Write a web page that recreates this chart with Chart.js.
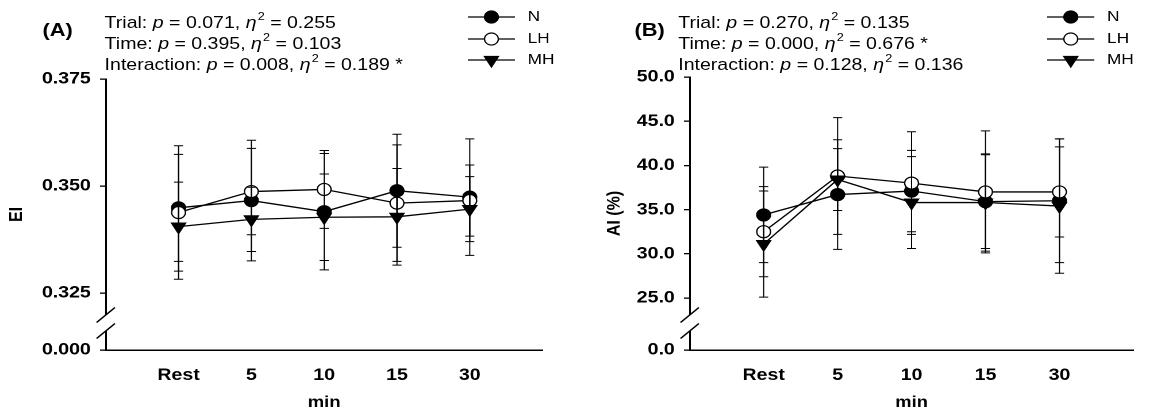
<!DOCTYPE html>
<html>
<head>
<meta charset="utf-8">
<script src="https://cdn.jsdelivr.net/npm/chart.js@4.4.0/dist/chart.umd.min.js"></script>
<style>
  html, body { margin: 0; padding: 0; background: #fff; overflow: hidden; }
  #wrap { position: absolute; left: 0; top: 0; width: 1010px; height: 412px;
          transform: scaleX(1.1495); transform-origin: 0 0;
          font-family: "Liberation Sans", Arial, sans-serif; color: #000; }
  .panel { position: absolute; top: 0; height: 412px; }
  .tag { position: absolute; font-weight: bold; font-size: 19px; line-height: 23px; }
  .stats { position: absolute; font-size: 17px; line-height: 21px; white-space: nowrap; }
  .stats div { height: 21px; }
  .stats sup { font-size: 11px; line-height: 0; vertical-align: baseline;
               position: relative; top: -8px; margin-left: 1px; }
</style>
</head>
<body>
<div id="wrap">
  <div class="panel" style="left:0;width:504px"><canvas id="chartA"></canvas></div>
  <div class="panel" style="left:504px;width:506px"><canvas id="chartB"></canvas></div>

  <div class="tag" style="left:37px;top:18px">(A)</div>
  <div class="stats" style="left:91px;top:12px">
    <div>Trial: <i>p</i> = 0.071, <i>η</i><sup>2</sup> = 0.255</div>
    <div>Time: <i>p</i> = 0.395, <i>η</i><sup>2</sup> = 0.103</div>
    <div>Interaction: <i>p</i> = 0.008, <i>η</i><sup>2</sup> = 0.189 *</div>
  </div>

  <div class="tag" style="left:552px;top:18px">(B)</div>
  <div class="stats" style="left:590px;top:12px">
    <div>Trial: <i>p</i> = 0.270, <i>η</i><sup>2</sup> = 0.135</div>
    <div>Time: <i>p</i> = 0.000, <i>η</i><sup>2</sup> = 0.676 *</div>
    <div>Interaction: <i>p</i> = 0.128, <i>η</i><sup>2</sup> = 0.136</div>
  </div>
</div>

<script>
// time points
const timeLabels = ['Rest', '5', '10', '15', '30']

// EI (panel A) means and SDs
const eiN    = [0.3449, 0.3466, 0.3440, 0.3489, 0.3474]
const eiLH   = [0.3438, 0.3487, 0.3492, 0.3460, 0.3466]
const eiMH   = [0.3405, 0.3422, 0.3427, 0.3428, 0.3446]
const eiNsd  = [0.0125, 0.0141, 0.0136, 0.0132, 0.0136]
const eiLHsd = [0.0156, 0.0101, 0.0091, 0.0136, 0.0083]
const eiMHsd = [0.0104, 0.0075, 0.0101, 0.0113, 0.0076]

// AI % (panel B) means and SDs
const aiN    = [34.4, 36.7, 37.1, 35.9, 36.0]
const aiLH   = [32.5, 38.8, 38.0, 37.0, 37.0]
const aiMH   = [31.1, 38.4, 35.8, 35.8, 35.4]
const aiNsd  = [5.4, 6.2, 4.6, 5.3, 7.0]
const aiLHsd = [5.1, 6.6, 5.8, 6.9, 5.1]
const aiMHsd = [6.0, 3.5, 5.2, 5.5, 7.6]

// y tick labels above the axis break
const eiTicks = [0.325, 0.350, 0.375]
const aiTicks = [25, 30, 35, 40, 45, 50]

const FONT = '"Liberation Sans", Arial, sans-serif'
Chart.defaults.color = '#000'
Chart.defaults.font.family = FONT

const pts = arr => arr.map((v, i) => ({x: i + 1, y: v}))

function makeSets(n, lh, mh, nsd, lhsd, mhsd) {
  const base = {borderColor: '#000', borderWidth: 1.3, pointBorderColor: '#000',
                pointBorderWidth: 1.2, tension: 0, fill: false}
  return [
    {...base, label: 'N', data: pts(n), sd: nsd, pointStyle: 'circle', pointRadius: 6,
     pointBackgroundColor: '#000', pointRotation: 0, order: 3},
    {...base, label: 'LH', data: pts(lh), sd: lhsd, pointStyle: 'circle', pointRadius: 6,
     pointBackgroundColor: '#fff', pointRotation: 0, order: 2},
    {...base, label: 'MH', data: pts(mh), sd: mhsd, pointStyle: 'triangle', pointRadius: 7,
     pointBackgroundColor: '#000', pointRotation: 180, order: 1},
  ]
}

// vertical error bars with caps, drawn through the y scale
const errorBars = {
  id: 'errorBars',
  afterDatasetsDraw(chart) {
    const ctx = chart.ctx, ys = chart.scales.y
    ctx.save()
    ctx.strokeStyle = '#000'
    ctx.lineWidth = 1
    chart.data.datasets.forEach((ds, i) => {
      chart.getDatasetMeta(i).data.forEach((pt, j) => {
        const v = ds.data[j].y, e = ds.sd[j]
        const t = ys.getPixelForValue(v + e), b = ys.getPixelForValue(v - e)
        ctx.beginPath()
        ctx.moveTo(pt.x, t); ctx.lineTo(pt.x, b)
        ctx.moveTo(pt.x - 4, t); ctx.lineTo(pt.x + 4, t)
        ctx.moveTo(pt.x - 4, b); ctx.lineTo(pt.x + 4, b)
        ctx.stroke()
      })
    })
    ctx.restore()
  }
}

// axis break marks near the bottom of the y axis
const axisBreak = {
  id: 'axisBreak',
  afterDraw(chart) {
    const ctx = chart.ctx
    const x = chart.scales.y.right
    const bottom = chart.chartArea.bottom
    const y1 = bottom - 35, y2 = bottom - 19
    ctx.save()
    ctx.fillStyle = '#fff'
    ctx.fillRect(x - 3, y1, 6, y2 - y1)
    ctx.strokeStyle = '#000'
    ctx.lineWidth = 1.4
    ;[y1, y2].forEach(yc => {
      ctx.beginPath()
      ctx.moveTo(x - 8, yc + 7.5)
      ctx.lineTo(x + 8, yc - 7.5)
      ctx.stroke()
    })
    ctx.restore()
  }
}

// series key: line segment with marker, then label
const seriesKey = {
  id: 'seriesKey',
  afterDraw(chart, args, opts) {
    const ctx = chart.ctx
    ctx.save()
    chart.data.datasets.forEach((ds, i) => {
      const y = opts.rows[i]
      ctx.strokeStyle = '#000'
      ctx.lineWidth = 1.3
      ctx.beginPath()
      ctx.moveTo(opts.x0, y); ctx.lineTo(opts.x1, y)
      ctx.stroke()
      ctx.fillStyle = ds.pointBackgroundColor
      ctx.lineWidth = 1.2
      Chart.helpers.drawPoint(ctx, {pointStyle: ds.pointStyle, rotation: ds.pointRotation,
        radius: ds.pointRadius, borderWidth: 1.2}, (opts.x0 + opts.x1) / 2, y)
      ctx.fillStyle = '#000'
      ctx.font = '15px ' + FONT
      ctx.textAlign = 'left'
      ctx.textBaseline = 'middle'
      ctx.fillText(ds.label, opts.tx, y)
    })
    ctx.restore()
  }
}

function panel(id, sets, ticks, floor, floorLabel, digits, yTitle, cfg) {
  new Chart(document.getElementById(id), {
    type: 'line',
    data: {datasets: sets},
    plugins: [errorBars, axisBreak, seriesKey],
    options: {
      responsive: true,
      maintainAspectRatio: false,
      animation: false,
      devicePixelRatio: 2,
      layout: {padding: {left: 0, top: cfg.top, right: cfg.right, bottom: 0}},
      plugins: {
        legend: {display: false},
        tooltip: {enabled: false},
        seriesKey: {x0: 407, x1: 448, tx: 459, rows: [17, 39, 60]}
      },
      scales: {
        x: {
          type: 'linear', min: 0, max: 6,
          afterBuildTicks: s => { s.ticks = timeLabels.map((_, i) => ({value: i + 1})) },
          afterFit: s => { s.height = 62 },
          grid: {display: false},
          border: {display: true, color: '#000', width: 1.5},
          ticks: {font: {size: 17, weight: 'bold'}, padding: 7,
                  callback: v => timeLabels[v - 1]},
          title: {display: true, text: 'min', font: {size: 16, weight: 'bold'},
                  padding: {top: 0, bottom: 0}}
        },
        y: {
          type: 'linear', min: floor, max: ticks[ticks.length - 1],
          afterBuildTicks: s => { s.ticks = [floor, ...ticks].map(v => ({value: v})) },
          afterFit: s => { s.width = cfg.axisX },
          grid: {display: true, drawOnChartArea: false, drawTicks: true, tickLength: 5,
                 color: '#000', lineWidth: 1.3},
          border: {display: true, color: '#000', width: 1.5},
          ticks: {font: {size: 17, weight: 'bold'}, padding: 8,
                  callback: v => v === floor ? floorLabel : v.toFixed(digits)},
          title: {display: true, text: yTitle, font: {size: 16, weight: 'bold'},
                  padding: {top: cfg.titlePad, bottom: 0}}
        }
      }
    }
  })
}

panel('chartA', makeSets(eiN, eiLH, eiMH, eiNsd, eiLHsd, eiMHsd),
      eiTicks, 0.31168, '0.000', 3, 'EI',
      {top: 79, right: 32, axisX: 92, titlePad: 5})

panel('chartB', makeSets(aiN, aiLH, aiMH, aiNsd, aiLHsd, aiMHsd),
      aiTicks, 19.12, '0.0', 1, 'AI (%)',
      {top: 77, right: 24, axisX: 96, titlePad: 21})
</script>
</body>
</html>
